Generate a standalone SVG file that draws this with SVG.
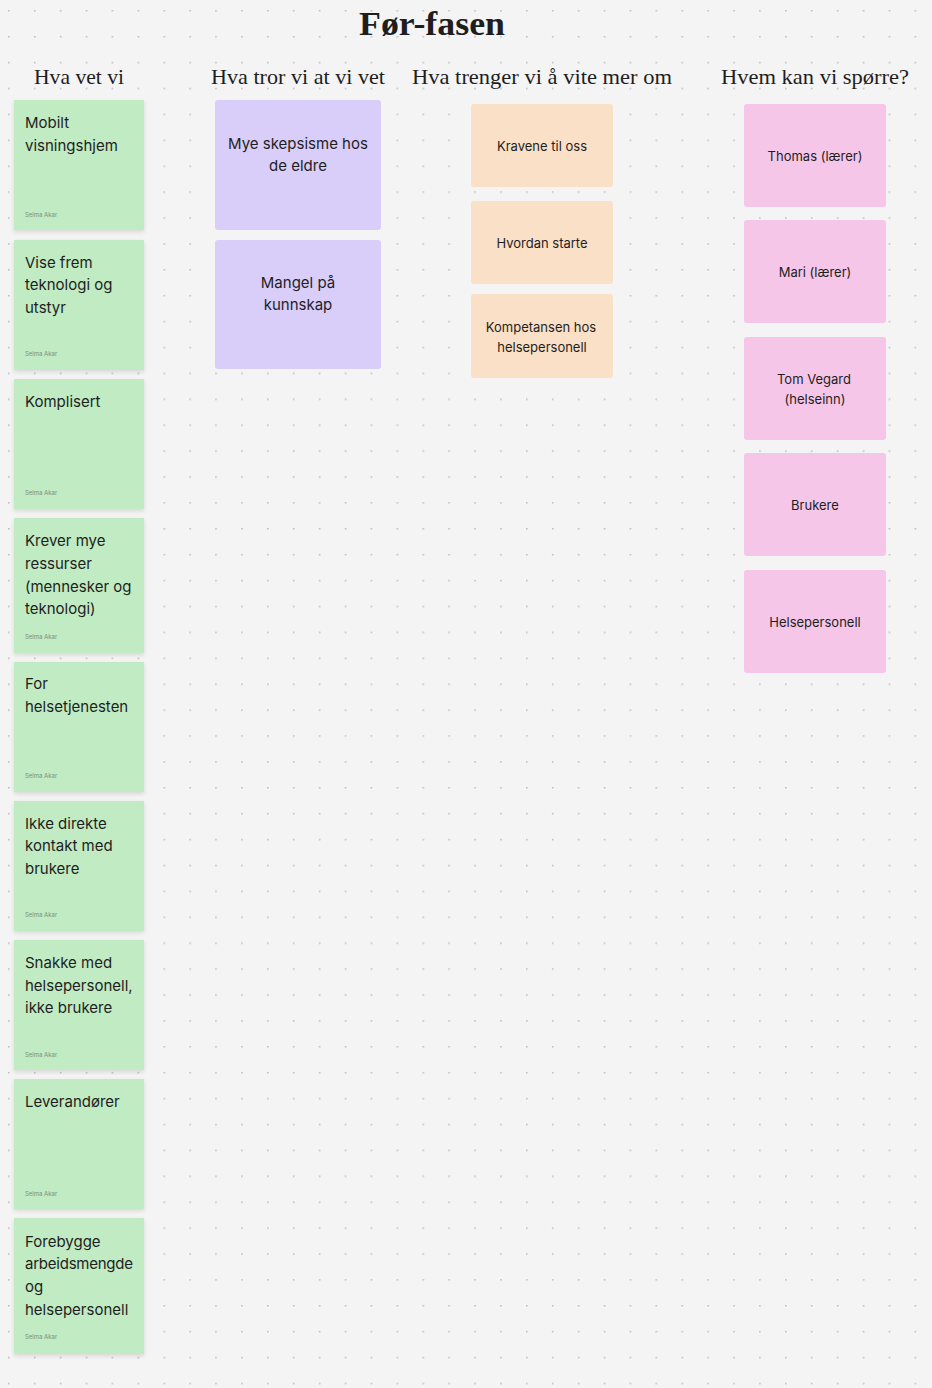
<svg xmlns="http://www.w3.org/2000/svg" width="932" height="1388" viewBox="0 0 932 1388">
<defs>
<pattern id="dots" x="8" y="10" width="25.9" height="25.9" patternUnits="userSpaceOnUse"><circle cx="0.8" cy="0.8" r="0.9" fill="#bdbdbd"/></pattern>
<filter id="sh" x="-10%" y="-10%" width="120%" height="130%"><feDropShadow dx="0" dy="2" stdDeviation="2" flood-color="#000" flood-opacity="0.12"/></filter>
<style>
.h{font-family:"Liberation Serif","DejaVu Serif",serif;font-size:22px;fill:#1e1e1e;text-anchor:middle}
.t{font-family:Inter,"Liberation Sans",sans-serif;font-size:15px;fill:#1e1e1e}
.s{font-family:Inter,"Liberation Sans",sans-serif;font-size:13px;fill:#1e1e1e;text-anchor:middle}
.a{font-family:Inter,"Liberation Sans",sans-serif;font-size:6px;fill:#7a8f7a}
.g{fill:#c0ebc3;filter:url(#sh)}
.p{fill:#d9cdf9}.o{fill:#fae0c6}.k{fill:#f5c6e8}
</style>
</defs>
<rect width="932" height="1388" fill="#f4f4f4"/>
<rect width="932" height="1388" fill="url(#dots)"/>
<text x="432" y="35" style="font-family:'Liberation Serif','DejaVu Serif',serif;font-size:34px;font-weight:bold;fill:#1e1e1e" text-anchor="middle" textLength="146" lengthAdjust="spacingAndGlyphs">Før-fasen</text>
<text class="h" x="79" y="84" textLength="90" lengthAdjust="spacingAndGlyphs">Hva vet vi</text>
<text class="h" x="298" y="84" textLength="174" lengthAdjust="spacingAndGlyphs">Hva tror vi at vi vet</text>
<text class="h" x="542" y="84" textLength="260" lengthAdjust="spacingAndGlyphs">Hva trenger vi å vite mer om</text>
<text class="h" x="815" y="84" textLength="188" lengthAdjust="spacingAndGlyphs">Hvem kan vi spørre?</text>
<g id="g1"><rect class="g" x="14" y="100" width="130" height="130"/><text class="t" x="25" y="128">Mobilt</text><text class="t" x="25" y="151">visningshjem</text><text class="a" x="25" y="217">Selma Akar</text></g>
<g id="g2"><rect class="g" x="14" y="240" width="130" height="130"/><text class="t" x="25" y="268">Vise frem</text><text class="t" x="25" y="290">teknologi og</text><text class="t" x="25" y="313">utstyr</text><text class="a" x="25" y="356">Selma Akar</text></g>
<g id="g3"><rect class="g" x="14" y="379" width="130" height="130"/><text class="t" x="25" y="407">Komplisert</text><text class="a" x="25" y="495">Selma Akar</text></g>
<g id="g4"><rect class="g" x="14" y="518" width="130" height="135"/><text class="t" x="25" y="546">Krever mye</text><text class="t" x="25" y="569">ressurser</text><text class="t" x="25" y="592">(mennesker og</text><text class="t" x="25" y="614">teknologi)</text><text class="a" x="25" y="639">Selma Akar</text></g>
<g id="g5"><rect class="g" x="14" y="662" width="130" height="130"/><text class="t" x="25" y="689">For</text><text class="t" x="25" y="712">helsetjenesten</text><text class="a" x="25" y="778">Selma Akar</text></g>
<g id="g6"><rect class="g" x="14" y="801" width="130" height="130"/><text class="t" x="25" y="829">Ikke direkte</text><text class="t" x="25" y="851">kontakt med</text><text class="t" x="25" y="874">brukere</text><text class="a" x="25" y="917">Selma Akar</text></g>
<g id="g7"><rect class="g" x="14" y="940" width="130" height="130"/><text class="t" x="25" y="968">Snakke med</text><text class="t" x="25" y="991">helsepersonell,</text><text class="t" x="25" y="1013">ikke brukere</text><text class="a" x="25" y="1057">Selma Akar</text></g>
<g id="g8"><rect class="g" x="14" y="1079" width="130" height="130"/><text class="t" x="25" y="1107">Leverandører</text><text class="a" x="25" y="1196">Selma Akar</text></g>
<g id="g9"><rect class="g" x="14" y="1218" width="130" height="136"/><text class="t" x="25" y="1247">Forebygge</text><text class="t" x="25" y="1269" textLength="108">arbeidsmengde</text><text class="t" x="25" y="1292">og</text><text class="t" x="25" y="1315">helsepersonell</text><text class="a" x="25" y="1339">Selma Akar</text></g>
<g id="p1"><rect class="p" x="215" y="100" width="166" height="130" rx="3"/><text class="t" x="298" y="149" text-anchor="middle">Mye skepsisme hos</text><text class="t" x="298" y="171" text-anchor="middle">de eldre</text></g>
<g id="p2"><rect class="p" x="215" y="240" width="166" height="129" rx="3"/><text class="t" x="298" y="288" text-anchor="middle">Mangel på</text><text class="t" x="298" y="310" text-anchor="middle">kunnskap</text></g>
<g id="o1"><rect class="o" x="471" y="104" width="142" height="83" rx="3"/><text class="s" x="542" y="151">Kravene til oss</text></g>
<g id="o2"><rect class="o" x="471" y="201" width="142" height="83" rx="3"/><text class="s" x="542" y="248">Hvordan starte</text></g>
<g id="o3"><rect class="o" x="471" y="294" width="142" height="84" rx="3"/><text class="s" x="541" y="332">Kompetansen hos</text><text class="s" x="542" y="352">helsepersonell</text></g>
<g id="k1"><rect class="k" x="744" y="104" width="142" height="103" rx="3"/><text class="s" x="815" y="161">Thomas (lærer)</text></g>
<g id="k2"><rect class="k" x="744" y="220" width="142" height="103" rx="3"/><text class="s" x="815" y="277">Mari (lærer)</text></g>
<g id="k3"><rect class="k" x="744" y="337" width="142" height="103" rx="3"/><text class="s" x="814" y="384">Tom Vegard</text><text class="s" x="815" y="404">(helseinn)</text></g>
<g id="k4"><rect class="k" x="744" y="453" width="142" height="103" rx="3"/><text class="s" x="815" y="510">Brukere</text></g>
<g id="k5"><rect class="k" x="744" y="570" width="142" height="103" rx="3"/><text class="s" x="815" y="627">Helsepersonell</text></g>
<g id="connectors"/>
</svg>
